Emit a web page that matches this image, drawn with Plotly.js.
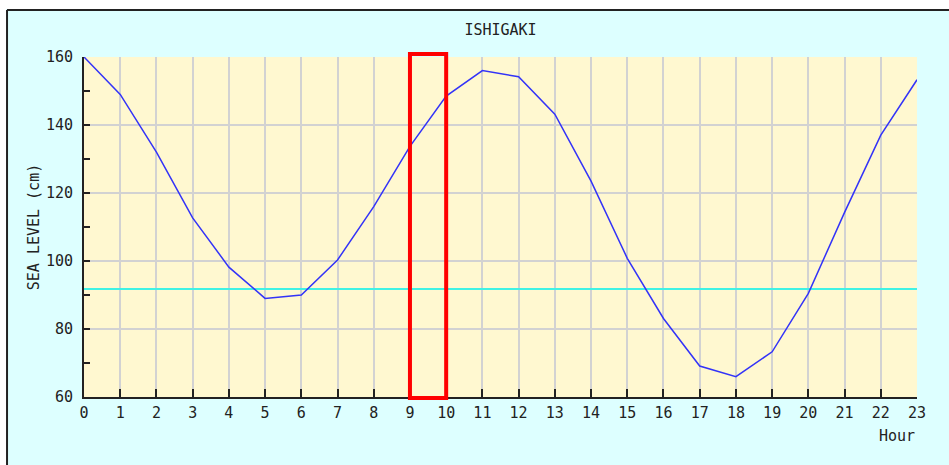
<!DOCTYPE html>
<html>
<head>
<meta charset="utf-8">
<script src="https://cdn.plot.ly/plotly-3.0.1.min.js"></script>
<style>html,body{margin:0;padding:0;background:#fff;}#chart{width:949px;height:465px;}</style>
</head>
<body>
<div id="chart"></div>
<script>
// Data
var hours = [0,1,2,3,4,5,6,7,8,9,10,11,12,13,14,15,16,17,18,19,20,21,22,23];
var seaLevel = [160,149,132,112.7,98.2,89,90,100.3,116,133.7,148.5,156,154.2,143.2,123.5,100.8,83.1,69.1,66,73.3,90.5,114.3,137,153.3];
var meanLevel = 91.8;
var highlightHours = [9, 10];
var yTickVals = [60,80,100,120,140,160];

var FONT = 'DejaVu Sans Mono, monospace';
var FS = 15;

var traces = [
  {
    x: [hours[0], hours[hours.length-1]],
    y: [meanLevel, meanLevel],
    mode: 'lines',
    line: {color: '#40f2e4', width: 2},
    hoverinfo: 'skip',
    showlegend: false
  },
  {
    x: hours,
    y: seaLevel,
    mode: 'lines',
    line: {color: '#3333f8', width: 1.5},
    showlegend: false
  }
];

var layout = {
  width: 949,
  height: 465,
  margin: {l: 84, r: 32, t: 57, b: 68, pad: 0},
  paper_bgcolor: '#ddffff',
  plot_bgcolor: '#fff8d0',
  font: {family: FONT, size: FS, color: '#222'},
  title: {
    text: 'ISHIGAKI',
    font: {family: FONT, size: FS, color: '#222'},
    x: 0.5, xref: 'paper', xanchor: 'center',
    y: 0.935, yref: 'container', yanchor: 'middle'
  },
  showlegend: false,
  xaxis: {
    range: [0, 23],
    tickmode: 'array',
    tickvals: hours,
    ticktext: hours.map(String),
    ticks: 'inside',
    ticklen: 8,
    tickwidth: 2,
    tickcolor: '#222',
    showline: true,
    linecolor: '#222',
    linewidth: 2,
    showgrid: true,
    gridcolor: '#d2d2d2',
    gridwidth: 2,
    zeroline: false,
    ticklabelstandoff: 1,
    tickfont: {family: FONT, size: FS, color: '#222'},
    fixedrange: true
  },
  yaxis: {
    range: [60, 160],
    tickmode: 'array',
    tickvals: yTickVals,
    ticktext: yTickVals.map(String),
    ticks: 'inside',
    ticklen: 6,
    tickwidth: 2,
    tickcolor: '#222',
    minor: {dtick: 10, ticks: 'inside', ticklen: 6, tickwidth: 2, tickcolor: '#222', showgrid: false},
    showline: true,
    linecolor: '#222',
    linewidth: 2,
    showgrid: true,
    gridcolor: '#d2d2d2',
    gridwidth: 2,
    zeroline: false,
    ticklabelstandoff: 6,
    tickfont: {family: FONT, size: FS, color: '#222'},
    title: {text: 'SEA LEVEL (cm)', font: {family: FONT, size: FS, color: '#222'}, standoff: 3},
    fixedrange: true
  },
  annotations: [
    {
      text: 'Hour', xref: 'paper', yref: 'paper', x: 1, y: -0.115,
      xanchor: 'right', yanchor: 'middle', showarrow: false,
      font: {family: FONT, size: FS, color: '#222'}
    }
  ],
  shapes: [
    // white outside strips
    {type: 'rect', xref: 'paper', yref: 'paper', x0: -0.2, x1: 1.2, y0: 1.141, y1: 1.3, fillcolor: '#ffffff', line: {width: 0}, layer: 'below'},
    {type: 'rect', xref: 'paper', yref: 'paper', x0: -0.2, x1: -0.0936, y0: -0.3, y1: 1.3, fillcolor: '#ffffff', line: {width: 0}, layer: 'below'},
    // frame lines
    {type: 'line', xref: 'paper', yref: 'paper', x0: -0.0924, x1: 1.2, y0: 1.1382, y1: 1.1382, line: {color: '#222', width: 2}},
    {type: 'line', xref: 'paper', yref: 'paper', x0: -0.0924, x1: -0.0924, y0: -0.3, y1: 1.1382, line: {color: '#222', width: 2}},
    // highlight rectangle
    {type: 'rect', xref: 'x', yref: 'paper', x0: highlightHours[0], x1: highlightHours[1], y0: -0.003, y1: 1.009, line: {color: '#ff0000', width: 4}, fillcolor: 'rgba(0,0,0,0)', layer: 'above'}
  ]
};

Plotly.newPlot('chart', traces, layout, {displayModeBar: false, staticPlot: true});
</script>
</body>
</html>
